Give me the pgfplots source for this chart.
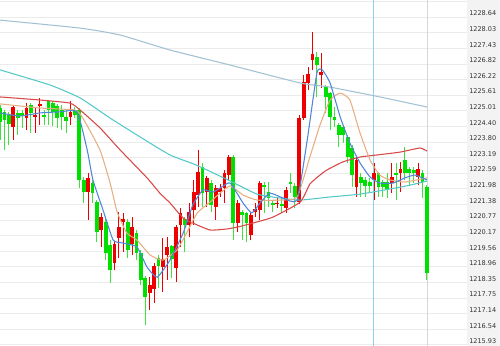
\documentclass[border=0pt]{standalone}
\usepackage{pgfplots}
\pgfplotsset{compat=1.18}
\usepackage{pgfplotstable}
\usepackage{fontspec}
\setmainfont{DejaVu Sans}

\definecolor{cred}{HTML}{EE0000}
\definecolor{cgreen}{HTML}{00E000}
\definecolor{cgreenw}{HTML}{3FE03F}
\definecolor{maA}{HTML}{4F86D8}
\definecolor{maB}{HTML}{E6AE82}
\definecolor{maC}{HTML}{D84848}
\definecolor{maD}{HTML}{55C8C8}
\definecolor{maE}{HTML}{A2C2D4}
\definecolor{gridc}{HTML}{EBEBEB}
\definecolor{panelc}{HTML}{F3F3F3}
\definecolor{crossc}{HTML}{8CD2EA}
\definecolor{lastc}{HTML}{D6D6D6}
\definecolor{labc}{HTML}{333333}

% rising candles (close > open)
\pgfplotstableread{
i o h l c
3 1224.38 1225.24 1223.88 1225.16
6 1224.73 1225.31 1224.27 1225.12
8 1224.77 1225.12 1224.15 1224.85
9 1225.20 1225.51 1224.46 1225.28
16 1224.77 1225.39 1224.46 1224.97
20 1221.86 1222.60 1220.78 1222.41
23 1220.39 1221.05 1219.73 1220.89
26 1219.11 1220.00 1218.84 1219.88
27 1220.08 1221.09 1219.30 1220.51
28 1220.70 1221.05 1219.53 1220.82
30 1219.88 1220.89 1219.42 1220.51
34 1217.94 1218.57 1217.29 1218.26
35 1218.10 1219.11 1217.56 1218.99
37 1218.95 1220.08 1217.98 1219.26
38 1219.42 1220.12 1218.45 1219.73
40 1218.91 1220.58 1218.37 1220.51
41 1220.58 1221.24 1219.73 1221.05
43 1220.58 1221.44 1220.12 1221.09
44 1221.16 1222.33 1220.58 1221.86
45 1221.75 1223.49 1221.28 1222.64
47 1221.86 1222.48 1221.28 1222.41
49 1221.28 1222.13 1220.78 1222.02
50 1221.86 1222.17 1221.67 1222.02
51 1222.02 1222.72 1221.44 1222.60
52 1222.52 1223.30 1222.33 1223.22
54 1220.66 1221.55 1220.31 1221.44
57 1220.19 1221.05 1220.00 1220.97
58 1221.09 1221.44 1220.89 1221.20
59 1221.16 1222.29 1220.78 1222.21
63 1221.40 1221.63 1221.24 1221.47
65 1221.24 1222.06 1221.05 1221.94
68 1221.47 1224.85 1221.40 1224.73
69 1224.73 1226.40 1224.66 1226.13
70 1226.09 1226.71 1225.82 1226.44
71 1226.98 1228.07 1226.60 1227.22
73 1226.40 1227.25 1225.90 1226.52
81 1222.06 1223.22 1221.67 1223.10
85 1222.33 1222.99 1221.55 1222.60
89 1222.21 1222.99 1221.82 1222.44
91 1222.60 1223.03 1221.86 1222.75
95 1222.44 1222.99 1222.13 1222.75
}\uptab

% falling candles (close < open)
\pgfplotstableread{
i o h l c
0 1225.12 1225.24 1223.88 1224.58
1 1224.97 1225.04 1223.49 1224.66
2 1224.85 1224.97 1223.69 1224.50
4 1224.93 1225.04 1224.07 1224.73
5 1224.93 1225.04 1224.35 1224.81
7 1225.24 1225.31 1224.15 1224.93
10 1224.85 1225.04 1224.46 1224.77
11 1225.39 1225.43 1224.46 1225.04
12 1225.31 1225.39 1224.42 1224.97
13 1225.20 1225.28 1224.35 1224.73
14 1225.04 1225.24 1224.27 1224.77
15 1224.77 1225.04 1224.15 1224.62
17 1225.04 1225.16 1224.73 1224.85
18 1225.04 1225.12 1222.02 1222.33
19 1222.33 1222.44 1221.44 1221.86
21 1222.21 1222.33 1221.44 1221.82
22 1221.47 1221.55 1219.92 1220.31
24 1220.70 1220.89 1219.22 1219.50
25 1219.81 1220.00 1218.33 1218.84
29 1220.70 1220.85 1219.30 1219.61
31 1220.27 1220.39 1219.22 1219.50
32 1219.50 1219.61 1218.26 1218.45
33 1218.53 1218.60 1216.70 1217.79
36 1219.30 1219.42 1218.14 1218.99
39 1219.77 1219.81 1218.53 1219.26
42 1220.82 1220.89 1219.53 1220.58
46 1222.83 1222.99 1221.28 1221.82
48 1222.21 1222.33 1221.09 1221.36
53 1223.22 1223.30 1220.00 1220.66
55 1221.09 1221.16 1220.00 1220.97
56 1221.05 1221.09 1219.92 1220.66
60 1222.13 1222.25 1221.05 1222.06
61 1221.86 1222.25 1221.28 1221.63
62 1221.44 1221.55 1221.09 1221.36
64 1221.40 1221.67 1221.09 1221.32
66 1222.25 1222.60 1221.82 1222.17
67 1222.10 1222.21 1221.24 1221.67
72 1227.10 1227.29 1225.55 1226.79
74 1225.94 1226.01 1224.93 1225.55
75 1225.70 1225.74 1224.27 1224.77
76 1224.77 1225.16 1224.38 1224.66
77 1224.46 1224.54 1223.61 1224.07
78 1224.38 1224.46 1223.76 1224.07
79 1224.00 1224.07 1222.99 1223.22
80 1223.57 1223.69 1222.06 1222.52
82 1222.44 1222.60 1221.67 1222.21
83 1222.33 1222.44 1221.67 1222.10
84 1222.25 1222.41 1221.82 1222.10
86 1222.60 1222.64 1221.67 1222.06
87 1222.25 1222.33 1221.67 1222.06
88 1222.25 1222.60 1221.63 1221.94
90 1222.60 1222.99 1221.55 1222.52
92 1223.10 1223.61 1222.33 1222.60
93 1222.75 1222.83 1222.13 1222.60
94 1222.72 1222.83 1222.21 1222.60
96 1222.60 1222.72 1221.63 1222.25
97 1222.06 1222.13 1218.45 1218.72
}\downtab

\begin{document}
\begin{tikzpicture}
\fill[panelc] (350.25pt,0pt) rectangle (375pt,259.5pt);
\begin{axis}[
  name=ax, at={(0pt,0pt)}, anchor=south west,
  scale only axis, width=350.25pt, height=259.5pt,
  xmin=-0.0227, xmax=106.11, ymin=1215.89, ymax=1229.31,
  axis line style={draw=none},
  xtick=\empty,
  ytick={1215.93,1216.535,1217.14,1217.746,1218.35,1218.956,1219.561,1220.167,1220.772,1221.377,1221.982,1222.588,1223.193,1223.798,1224.403,1225.009,1225.614,1226.219,1226.824,1227.43,1228.035,1228.64},
  yticklabels={1215.93,1216.54,1217.14,1217.75,1218.35,1218.96,1219.56,1220.17,1220.77,1221.38,1221.98,1222.59,1223.19,1223.80,1224.40,1225.01,1225.61,1226.22,1226.82,1227.43,1228.03,1228.64},
  extra y ticks={1229.245}, extra y tick labels={},
  extra y tick style={grid=major},
  ytick pos=right, major tick length=0pt,
  ymajorgrids, grid style={draw=gridc, line width=0.75pt},
  yticklabel style={anchor=base west, inner sep=0pt, xshift=1.5pt, yshift=1pt,
    font=\fontsize{4.9}{5}\selectfont, text=labc},
]
\draw[crossc, line width=0.75pt] (axis cs:84.8,1215.89) -- (axis cs:84.8,1229.31);
\draw[lastc, line width=0.6pt] (axis cs:97.1,1215.89) -- (axis cs:97.1,1229.31);

% wicks
\addplot[draw=none, mark=none, forget plot, error bars/.cd, y dir=both, y explicit, error mark=none,
  error bar style={draw=cred, line width=0.75pt, solid}]
  table[x=i, y expr={(\thisrow{h}+\thisrow{l})/2}, y error expr={(\thisrow{h}-\thisrow{l})/2}] {\uptab};
\addplot[draw=none, mark=none, forget plot, error bars/.cd, y dir=both, y explicit, error mark=none,
  error bar style={draw=cgreenw, line width=0.75pt, solid}]
  table[x=i, y expr={(\thisrow{h}+\thisrow{l})/2}, y error expr={(\thisrow{h}-\thisrow{l})/2}] {\downtab};
% bodies
\addplot[draw=none, mark=none, forget plot, error bars/.cd, y dir=both, y explicit, error mark=none,
  error bar style={draw=cred, line width=2.85pt, solid}]
  table[x=i, y expr={(\thisrow{o}+\thisrow{c})/2}, y error expr={(\thisrow{c}-\thisrow{o})/2}] {\uptab};
\addplot[draw=none, mark=none, forget plot, error bars/.cd, y dir=both, y explicit, error mark=none,
  error bar style={draw=cgreen, line width=2.85pt, solid}]
  table[x=i, y expr={(\thisrow{o}+\thisrow{c})/2}, y error expr={(\thisrow{o}-\thisrow{c})/2}] {\downtab};

% moving averages
\addplot[maE, line width=0.8pt, mark=none, smooth, tension=0.3] coordinates {
(-0.1,1228.55) (0,1228.53) (18.2,1228.22) (27.3,1227.95) (38.6,1227.37) (52.2,1226.79) (68.2,1226.09) (75,1225.93) (86.3,1225.55) (97,1225.16)};
\addplot[maD, line width=0.8pt, mark=none, smooth, tension=0.3] coordinates {
(-0.1,1226.63) (0,1226.60) (11.4,1226.01) (18.2,1225.51) (25,1224.73) (31.8,1224.00) (38.6,1223.30) (44,1222.95) (47,1222.72) (52.3,1222.29) (58.4,1221.78) (63.6,1221.63) (68.2,1221.55) (75,1221.67) (81.8,1221.78) (88.6,1221.98) (93.2,1222.13) (97,1222.29)};
\addplot[maC, line width=0.8pt, mark=none, smooth, tension=0.3] coordinates {
(-0.1,1225.55) (0,1225.55) (9.1,1225.43) (15.9,1225.31) (18.2,1225.04) (22.7,1224.35) (27.3,1223.49) (33.4,1222.41) (36.3,1221.82) (38.6,1221.44) (41.6,1220.85) (43.8,1220.66) (47.7,1220.39) (51.6,1220.43) (54.1,1220.51) (57.5,1220.66) (62,1220.89) (68.2,1221.47) (70.4,1222.17) (72.7,1222.52) (74.3,1222.72) (77.9,1223.03) (81.8,1223.22) (85.7,1223.30) (90.9,1223.41) (95.4,1223.57) (97,1223.45)};
\addplot[maB, line width=0.8pt, mark=none, smooth, tension=0.3] coordinates {
(-0.1,1225.28) (0,1225.28) (9.1,1225.12) (17,1225.04) (18.8,1224.73) (22.7,1223.49) (25,1222.21) (26.6,1221.09) (28.8,1220.27) (31.1,1220.00) (34.1,1219.42) (37,1219.22) (40.2,1219.61) (42.5,1220.31) (44.8,1221.05) (47.7,1221.47) (50,1221.82) (52.3,1222.10) (55.2,1221.75) (58.4,1221.55) (63.6,1221.55) (67.5,1221.67) (70.4,1223.22) (72.7,1224.46) (75,1225.43) (77.3,1225.70) (79.5,1225.43) (81.8,1224.15) (84.1,1223.10) (86.3,1222.52) (88.6,1222.33) (92,1222.25) (97,1222.41)};
\addplot[maA, line width=0.8pt, mark=none, smooth, tension=0.3] coordinates {
(-0.1,1224.93) (0,1224.93) (4.5,1224.81) (9.1,1224.93) (13.6,1224.97) (17.5,1224.97) (19.8,1223.49) (21.1,1222.33) (23.4,1221.16) (25.7,1220.00) (28,1219.88) (31.1,1219.73) (33.4,1218.95) (35.7,1218.56) (38.6,1219.22) (41.6,1220.27) (43.8,1221.36) (46.1,1221.94) (48.4,1221.86) (50.4,1222.06) (52.3,1222.21) (55.2,1221.44) (57.2,1221.05) (59.1,1221.44) (61.3,1221.82) (64.3,1221.63) (67.5,1221.55) (69.8,1223.88) (72,1226.48) (73.2,1226.60) (75,1226.09) (77.3,1224.77) (79.5,1223.76) (81.8,1222.99) (84.1,1222.44) (86.3,1222.21) (89.3,1222.21) (92,1222.41) (94.3,1222.52) (97,1222.33)};
\end{axis}
\pgfresetboundingbox
\path[use as bounding box] (0pt,0pt) rectangle (375pt,259.5pt);
\end{tikzpicture}
\end{document}
